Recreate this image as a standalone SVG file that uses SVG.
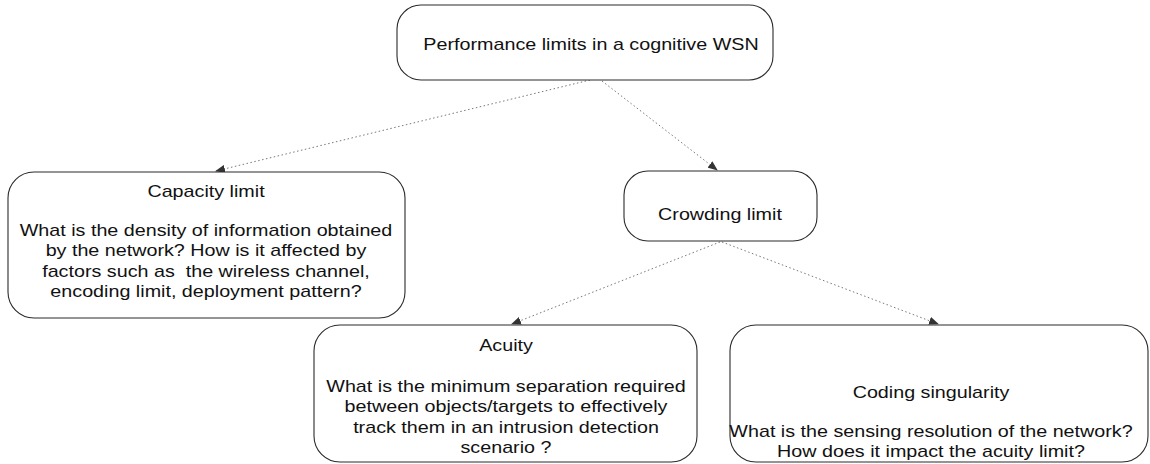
<svg xmlns="http://www.w3.org/2000/svg" width="1150" height="464" viewBox="0 0 1150 464">
<style>
.box{fill:#fff;stroke:#2a2a2a;stroke-width:1.1}
.t{font-family:"Liberation Sans",Arial,sans-serif;font-size:17px;fill:#111;text-anchor:middle}
.c{fill:none;stroke:#777;stroke-width:1;stroke-dasharray:1.5 2.5}
</style>
<defs>
<marker id="ah" markerWidth="10" markerHeight="8" refX="9" refY="4" orient="auto" markerUnits="userSpaceOnUse">
<path d="M0,0 L10,4 L0,8 Z" fill="#333"/>
</marker>
</defs>
<rect width="1150" height="464" fill="#fff"/>
<g id="connectors">
<line class="c" x1="590" y1="80" x2="216" y2="171" marker-end="url(#ah)"/>
<line class="c" x1="602" y1="81" x2="717" y2="170" marker-end="url(#ah)"/>
<line class="c" x1="720" y1="242" x2="512" y2="324" marker-end="url(#ah)"/>
<line class="c" x1="722" y1="242" x2="938" y2="324" marker-end="url(#ah)"/>
</g>
<g id="top">
<rect class="box" x="397" y="5" width="376" height="75" rx="24"/>
<text class="t" transform="matrix(1.16 0 0 1 591 50)">Performance limits in a cognitive WSN</text>
</g>
<g id="capacity">
<rect class="box" x="8" y="172" width="397" height="146" rx="26"/>
<text class="t" transform="matrix(1.16 0 0 1 206 197)"><tspan x="0" y="0">Capacity limit</tspan><tspan x="0" y="39">What is the density of information obtained</tspan><tspan x="0" y="59.5">by the network? How is it affected by</tspan><tspan x="0" y="80">factors such as&#160; the wireless channel,</tspan><tspan x="0" y="100.5">encoding limit, deployment pattern?</tspan></text>
</g>
<g id="crowding">
<rect class="box" x="624" y="171" width="193" height="70" rx="24"/>
<text class="t" transform="matrix(1.16 0 0 1 720 220)">Crowding limit</text>
</g>
<g id="acuity">
<rect class="box" x="314" y="325" width="383" height="137" rx="26"/>
<text class="t" transform="matrix(1.16 0 0 1 506 351)"><tspan x="0" y="0">Acuity</tspan><tspan x="0" y="41">What is the minimum separation required</tspan><tspan x="0" y="61.5">between objects/targets to effectively</tspan><tspan x="0" y="82">track them in an intrusion detection</tspan><tspan x="0" y="102.5">scenario ?</tspan></text>
</g>
<g id="coding">
<rect class="box" x="730" y="325" width="418" height="137" rx="26"/>
<text class="t" transform="matrix(1.16 0 0 1 931 398)"><tspan x="0" y="0">Coding singularity</tspan><tspan x="0" y="39">What is the sensing resolution of the network?</tspan><tspan x="0" y="59.5">How does it impact the acuity limit?</tspan></text>
</g>
</svg>
